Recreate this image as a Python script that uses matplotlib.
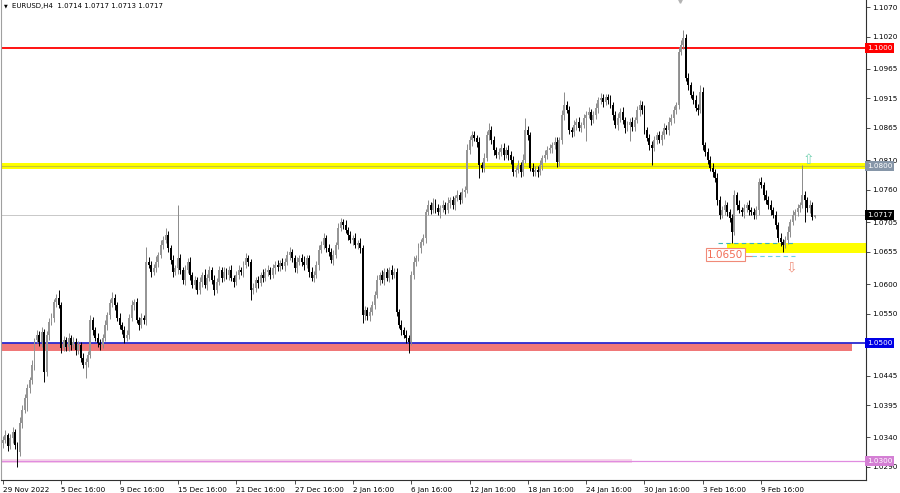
import matplotlib.pyplot as plt
import numpy as np
from matplotlib.transforms import blended_transform_factory

# EURUSD H4 bars, prices in points (1e-4). open of each bar = previous close
first_open_pts = 10330
close_pts = [
    10336, 10344, 10326, 10339, 10349, 10327, 10315, 10365, 10387, 10407,
    10424, 10437, 10463, 10505, 10514, 10502, 10519, 10451, 10514, 10536,
    10543, 10570, 10577, 10565, 10492, 10505, 10493, 10509, 10497, 10502,
    10488, 10497, 10475, 10463, 10468, 10480, 10539, 10522, 10509, 10500,
    10497, 10509, 10531, 10548, 10568, 10577, 10565, 10543, 10531, 10522,
    10509, 10514, 10543, 10565, 10570, 10539, 10531, 10543, 10539, 10638,
    10633, 10621, 10627, 10638, 10650, 10667, 10675, 10683, 10661, 10641,
    10621, 10627, 10644, 10624, 10607, 10624, 10638, 10616, 10599, 10607,
    10590, 10604, 10616, 10599, 10611, 10624, 10607, 10590, 10604, 10624,
    10611, 10621, 10616, 10624, 10611, 10604, 10616, 10624, 10621, 10633,
    10644, 10638, 10590, 10594, 10607, 10602, 10616, 10611, 10621, 10624,
    10616, 10627, 10633, 10629, 10636, 10631, 10638, 10650, 10655, 10644,
    10627, 10638, 10644, 10638, 10633, 10644, 10621, 10611, 10616, 10633,
    10658, 10667, 10678, 10661, 10655, 10641, 10650, 10667, 10695, 10705,
    10700, 10692, 10683, 10675, 10678, 10667, 10670, 10661, 10548, 10556,
    10546, 10553, 10565, 10582, 10607, 10616, 10607, 10621, 10611, 10624,
    10616, 10621, 10553, 10531, 10522, 10514, 10509, 10502, 10616, 10638,
    10644, 10661, 10672, 10678, 10722, 10734, 10726, 10738, 10729, 10722,
    10729, 10734, 10726, 10738, 10743, 10734, 10746, 10751, 10743, 10756,
    10760, 10828, 10844, 10853, 10848, 10841, 10802, 10797, 10814, 10853,
    10862, 10844, 10828, 10819, 10824, 10831, 10819, 10828, 10819, 10811,
    10790, 10794, 10802, 10790, 10811, 10862, 10853, 10797, 10790, 10794,
    10790, 10802, 10814, 10819, 10828, 10831, 10836, 10841, 10807, 10844,
    10887, 10904, 10895, 10862, 10858, 10870, 10875, 10865, 10870, 10882,
    10887, 10892, 10878, 10887, 10899, 10912, 10916, 10909, 10917, 10912,
    10904, 10887, 10870, 10882, 10892, 10878, 10865, 10870, 10875, 10867,
    10878, 10895, 10904, 10895, 10862, 10848, 10836, 10831, 10844, 10853,
    10844, 10853, 10865, 10862, 10875, 10882, 10895, 10904, 10994, 11006,
    11018, 10950, 10938, 10921, 10912, 10899, 10895, 10926, 10836, 10824,
    10811, 10797, 10790, 10780, 10743, 10717, 10726, 10734, 10722, 10712,
    10689, 10751, 10734, 10726, 10722, 10729, 10734, 10726, 10722, 10717,
    10726, 10773, 10768, 10751, 10743, 10734, 10726, 10717, 10700, 10678,
    10672, 10667, 10675, 10689, 10705, 10717, 10722, 10729, 10734, 10751,
    10743, 10729, 10734, 10714, 10717,
]
upper_wick_pts = [
    6, 8, 4, 7, 9, 5, 6, 10, 8, 6, 7, 5, 8, 4, 9, 6, 8, 5, 7, 6,
    8, 5, 6, 13, 4, 7, 6, 9, 5, 8, 6, 7, 5, 8, 6, 7, 9, 6, 5, 8,
    7, 6, 8, 5, 7, 10, 6, 5, 8, 4, 7, 9, 6, 8, 5, 7, 6, 8, 5, 25,
    8, 6, 7, 9, 5, 8, 6, 12, 7, 5, 8, 6, 90, 7, 5, 9, 6, 8, 5, 7,
    6, 8, 5, 9, 6, 7, 5, 8, 6, 7, 5, 8, 6, 7, 9, 5, 6, 8, 5, 7,
    9, 6, 5, 8, 6, 7, 5, 9, 6, 8, 5, 7, 6, 8, 5, 9, 6, 7, 8, 5,
    6, 8, 5, 7, 9, 6, 5, 8, 6, 7, 8, 6, 9, 5, 7, 6, 8, 5, 9, 7,
    6, 8, 5, 7, 6, 9, 5, 8, 6, 7, 5, 8, 6, 7, 9, 5, 8, 6, 7, 5,
    8, 6, 7, 5, 9, 6, 8, 5, 7, 9, 6, 8, 5, 7, 6, 9, 5, 8, 6, 7,
    5, 8, 6, 9, 5, 7, 6, 8, 5, 7, 6, 9, 8, 6, 7, 5, 8, 6, 9, 7,
    11, 6, 8, 5, 7, 6, 9, 5, 8, 6, 7, 5, 8, 6, 9, 20, 7, 5, 8, 6,
    7, 9, 5, 8, 6, 7, 5, 8, 9, 6, 8, 22, 6, 7, 5, 9, 6, 8, 5, 7,
    6, 8, 5, 7, 9, 6, 8, 7, 5, 6, 8, 5, 7, 9, 6, 8, 5, 7, 6, 8,
    5, 7, 9, 6, 8, 5, 7, 6, 8, 5, 7, 6, 9, 5, 8, 6, 7, 5, 9, 8,
    13, 6, 8, 5, 7, 9, 6, 12, 8, 5, 7, 6, 8, 5, 9, 6, 7, 8, 5, 6,
    7, 9, 6, 8, 5, 7, 6, 9, 5, 8, 6, 7, 8, 5, 9, 6, 8, 5, 7, 6,
    8, 5, 7, 9, 6, 8, 5, 7, 6, 51, 7, 5, 8, 6, 0,
]
lower_wick_pts = [
    7, 5, 9, 6, 8, 6, 25, 7, 9, 6, 22, 8, 6, 9, 5, 7, 8, 17, 6, 8,
    5, 7, 9, 6, 8, 5, 7, 6, 9, 5, 8, 6, 7, 5, 22, 8, 6, 9, 5, 7,
    8, 6, 5, 9, 7, 6, 8, 5, 7, 6, 9, 5, 7, 6, 8, 5, 9, 6, 7, 8,
    6, 8, 5, 7, 9, 6, 8, 5, 7, 6, 8, 5, 9, 6, 7, 8, 5, 9, 6, 8,
    7, 6, 8, 5, 9, 6, 7, 8, 5, 6, 8, 5, 7, 9, 6, 8, 5, 7, 6, 9,
    5, 8, 17, 6, 7, 9, 5, 8, 6, 7, 8, 5, 9, 6, 7, 5, 8, 6, 9, 7,
    6, 8, 5, 7, 9, 6, 8, 5, 7, 6, 9, 5, 8, 6, 7, 5, 9, 6, 8, 5,
    7, 6, 8, 5, 9, 6, 7, 8, 14, 9, 6, 8, 5, 7, 6, 9, 5, 8, 6, 7,
    8, 5, 7, 6, 8, 5, 9, 19, 6, 8, 7, 5, 8, 6, 9, 5, 7, 6, 8, 5,
    9, 6, 7, 5, 8, 6, 9, 5, 7, 6, 8, 6, 7, 9, 5, 8, 22, 6, 7, 5,
    8, 6, 9, 5, 7, 6, 8, 5, 9, 7, 6, 8, 5, 9, 7, 6, 8, 5, 7, 6,
    9, 5, 8, 6, 7, 5, 8, 6, 9, 7, 6, 8, 5, 7, 9, 6, 8, 5, 7, 6,
    40, 6, 8, 5, 7, 9, 6, 8, 5, 7, 6, 9, 5, 8, 7, 6, 8, 5, 27, 7,
    8, 5, 9, 6, 7, 5, 8, 29, 6, 7, 5, 8, 6, 7, 9, 5, 8, 6, 7, 5,
    8, 6, 9, 5, 7, 6, 8, 5, 9, 6, 7, 5, 8, 6, 9, 7, 5, 8, 6, 7,
    19, 6, 8, 5, 7, 9, 6, 8, 5, 7, 6, 8, 5, 9, 7, 6, 8, 5, 7, 6,
    8, 12, 6, 7, 9, 5, 8, 6, 7, 5, 38, 6, 8, 5, 1,
]

date_labels = ["29 Nov 2022", "5 Dec 16:00", "9 Dec 16:00", "15 Dec 16:00",
               "21 Dec 16:00", "27 Dec 16:00", "2 Jan 16:00", "6 Jan 16:00",
               "12 Jan 16:00", "18 Jan 16:00", "24 Jan 16:00", "30 Jan 16:00",
               "3 Feb 16:00", "9 Feb 16:00"]
bars_per_label = 24

price_ticks = [1.1070, 1.1020, 1.0965, 1.0915, 1.0865, 1.0810, 1.0760, 1.0705,
               1.0655, 1.0600, 1.0550, 1.0500, 1.0445, 1.0395, 1.0340, 1.0290]

resistance_top = 1.1000
resistance = 1.0800
support = 1.0500
support_low = 1.0300
last_price = 1.0717
zone_top, zone_bottom = 1.0670, 1.0653
target = 1.0650

c = np.array(close_pts) / 1e4
o = np.array([first_open_pts] + close_pts[:-1]) / 1e4
hi = np.maximum(o, c) + np.array(upper_wick_pts) / 1e4
lo = np.minimum(o, c) - np.array(lower_wick_pts) / 1e4
n = np.arange(len(c))
bull = c >= o

fig = plt.figure(figsize=(9, 4.93), dpi=100)
ax = fig.add_axes([0.001, 13 / 493, 865 / 900, 480 / 493])
ax.set_xlim(-0.82, 355.1)
ax.set_ylim(1.02679, 1.10819)
bt = blended_transform_factory(ax.transAxes, ax.transData)

# levels
ax.axhline(resistance_top, color="#ff0000", lw=1.3, zorder=2)
ax.axhspan(resistance - 0.00052, resistance + 0.00052, color="#ffff00", lw=0, zorder=1)
ax.axhline(resistance, color="#c8c832", lw=0.8, zorder=2)
ax.axhline(last_price, color="#c8c8c8", lw=0.7, zorder=1)
ax.fill_between([-1, 349.4], support - 0.00135, support + 0.00005,
                color="#f07878", lw=0, zorder=1)
ax.axhline(support + 0.0001, color="#2a2ad0", lw=1.3, zorder=2)
ax.fill_between([-1, 259], support_low - 0.0004, support_low + 0.0003,
                color="#f6d8ea", lw=0, zorder=1)
ax.axhline(support_low, color="#e08ce0", lw=0.9, zorder=2)
ax.fill_between([298, 356], zone_bottom, zone_top, color="#ffff00", lw=0, zorder=1)
ax.plot([294.3, 326], [zone_top, zone_top], color="#3cb4b4", lw=0.8,
        ls=(0, (4, 3)), zorder=3)
ax.plot([305.4, 308.3], [target - 0.0002, target - 0.0002], color="#f08a78", lw=0.8, zorder=3)
ax.plot([308.3, 326], [target - 0.0002, target - 0.0002], color="#70d0e0", lw=0.8,
        ls=(0, (4, 3)), zorder=3)

# candles
wick_col = np.where(bull, "#8a8a8a", "#000000")
ax.vlines(n, lo, hi, colors=wick_col, lw=0.7, zorder=4)
ax.bar(n, np.maximum(np.abs(c - o), 0.00006), bottom=np.minimum(o, c), width=0.8,
       color=np.where(bull, "#969696", "#000000"), lw=0, zorder=5)

# annotations
ax.text(297.2, target, "1.0650", color="#f26d55", fontsize=7.5, ha="center",
        va="center", zorder=6,
        bbox=dict(boxstyle="square,pad=0.12", fc="white", ec="#f08a78", lw=0.8))
ax.text(331.3, 1.0811, "\u21e7", color="#78d2b4", fontsize=10, ha="center",
        va="center", zorder=6)
ax.text(324.3, 1.0629, "\u21e9", color="#f0907c", fontsize=10, ha="center",
        va="center", zorder=6)
ax.plot([278.7], [1.1080], marker="v", color="#b4b4b4", ms=2.5, clip_on=False)

# axes styling
ax.spines["top"].set_visible(False)
ax.spines["left"].set_color("#a0a0a0")
ax.spines["right"].set_color("#303030")
ax.spines["bottom"].set_color("#303030")
for sp in ax.spines.values():
    sp.set_linewidth(0.8)
ax.yaxis.tick_right()
ax.set_yticks(price_ticks)
# the 1.0500 tick label sits under the support price box
ax.set_yticklabels(["" if abs(p - support) < 1e-6 else f"{p:.4f}" for p in price_ticks])
ax.set_xticks(np.arange(len(date_labels)) * bars_per_label)
ax.set_xticklabels(date_labels, ha="left")
ax.tick_params(axis="both", length=3, width=0.6, color="#303030", labelsize=5.2,
               pad=1.5)
ax.tick_params(axis="x", pad=2)

# price boxes on the right axis
boxes = [(resistance_top, "#ff0000"), (resistance, "#8696a8"), (last_price, "#000000"),
         (support, "#0000e6"), (support_low, "#d47fd4")]
for price, col in boxes:
    ax.text(1.0015, price, f"{price:.4f}", transform=bt, color="white", fontsize=5.2,
            ha="left", va="center", clip_on=False, zorder=10,
            bbox=dict(boxstyle="square,pad=0.25", fc=col, ec="none"))

fig.text(6 / 900, 1 - 6 / 493, "\u25bc", fontsize=3.5, ha="center", va="center")
fig.text(12 / 900, 1 - 6 / 493, "EURUSD,H4  1.0714 1.0717 1.0713 1.0717",
         fontsize=5, ha="left", va="center")

fig.savefig("out.png", dpi=100)
